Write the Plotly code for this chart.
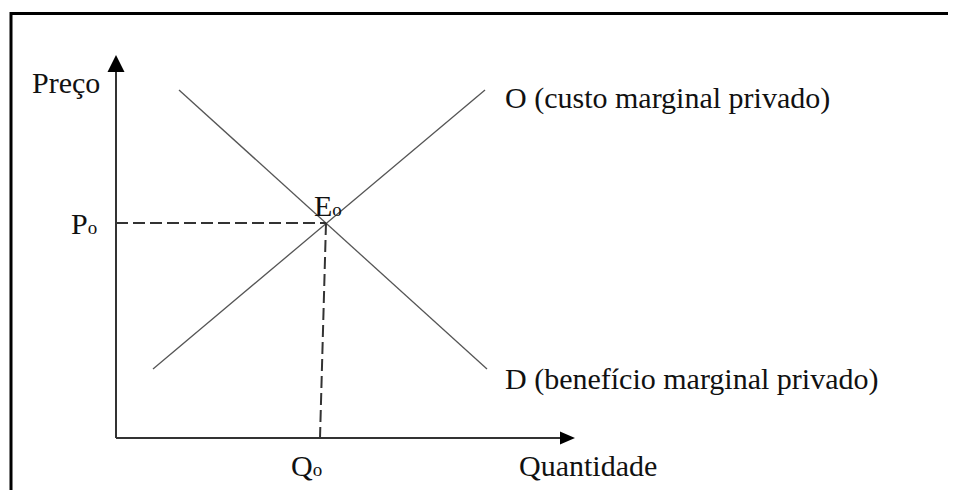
import plotly.graph_objects as go

# curva de oferta (custo marginal privado) e de procura (beneficio marginal privado)
quantidade_oferta = [3.7, 36.9]
preco_oferta = [6.9, 34.8]
quantidade_procura = [6.3, 37.1]
preco_procura = [34.8, 6.9]

# equilibrio
q_equilibrio = 21.0
p_equilibrio = 21.5
q_marca = 20.4

# comprimento dos eixos
eixo_x_max = 45.9
eixo_y_max = 38.3

FONT = "Times New Roman, Liberation Serif, DejaVu Serif, serif"
sub = lambda s: f'{s}<span style="font-size:19px">o</span>'

# a pagina tem margem de 8px no body
W, H = 948, 482

fig = go.Figure()

# eixos
fig.add_trace(go.Scatter(x=[0, 0], y=[0, eixo_y_max - 1.2], mode="lines",
                         line=dict(color="#333", width=2), hoverinfo="skip"))
fig.add_trace(go.Scatter(x=[0, eixo_x_max - 1.2], y=[0, 0], mode="lines",
                         line=dict(color="#333", width=2), hoverinfo="skip"))

# curvas
fig.add_trace(go.Scatter(x=quantidade_oferta, y=preco_oferta, mode="lines",
                         line=dict(color="#555", width=1.3), hoverinfo="skip"))
fig.add_trace(go.Scatter(x=quantidade_procura, y=preco_procura, mode="lines",
                         line=dict(color="#555", width=1.3), hoverinfo="skip"))

# linhas tracejadas do equilibrio
fig.add_trace(go.Scatter(x=[0, q_equilibrio], y=[p_equilibrio, p_equilibrio], mode="lines",
                         line=dict(color="#333", width=2, dash="12px,5px"), hoverinfo="skip"))
fig.add_trace(go.Scatter(x=[q_equilibrio, q_marca], y=[p_equilibrio, 0], mode="lines",
                         line=dict(color="#333", width=2, dash="12px,5px"), hoverinfo="skip"))

# pontas das setas
fig.add_shape(type="path", xsizemode="pixel", ysizemode="pixel",
              xanchor=0, yanchor=eixo_y_max, path="M0,0 L-8.5,-17 L8.5,-17 Z",
              fillcolor="black", line=dict(width=0))
fig.add_shape(type="path", xsizemode="pixel", ysizemode="pixel",
              xanchor=eixo_x_max, yanchor=0, path="M0,0 L-15,6.5 L-15,-6.5 Z",
              fillcolor="black", line=dict(width=0))

# moldura (apenas topo e esquerda visiveis)
fig.add_shape(type="line", xref="paper", yref="paper", x0=2 / W, x1=1,
              y0=1 - 5.5 / H, y1=1 - 5.5 / H, line=dict(color="black", width=3))
fig.add_shape(type="line", xref="paper", yref="paper", x0=3 / W, x1=3 / W,
              y0=0, y1=1 - 4 / H, line=dict(color="black", width=3))

labels = [
    ("Preço", -8.6, 35.6),
    (sub("P"), -4.7, 21.5),
    (sub("E"), 19.6, 23.3),
    (sub("Q"), 17.3, -2.7),
    ("Quantidade", 40.1, -2.7),
    ("O (custo marginal privado)", 38.7, 34.0),
    ("D (benefício marginal privado)", 38.7, 5.9),
]
for txt, x, y in labels:
    fig.add_annotation(x=x, y=y, text=txt, showarrow=False, xanchor="left", yanchor="middle",
                       font=dict(family=FONT, size=30, color="#111"))

fig.update_xaxes(range=[-10.8, 84.0], visible=False)
fig.update_yaxes(range=[-5.2, 43.0], visible=False)
fig.update_layout(
    width=W, height=H, margin=dict(l=0, r=0, t=0, b=0),
    plot_bgcolor="white", paper_bgcolor="white", showlegend=False,
)

fig.write_html("out.html")
